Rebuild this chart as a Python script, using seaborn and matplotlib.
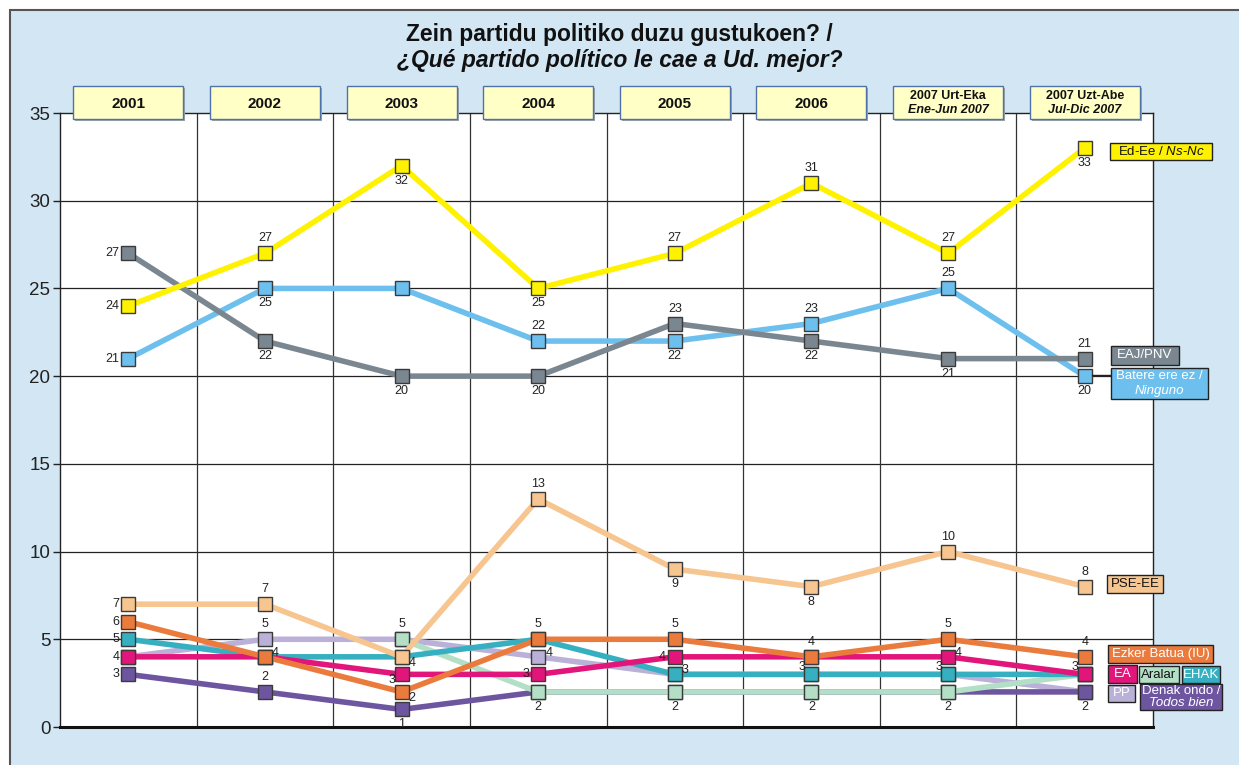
import numpy as np
import pandas as pd
import matplotlib
matplotlib.use("Agg")
import matplotlib.pyplot as plt
from matplotlib.patches import Rectangle
import seaborn as sns

# ---------------- data ----------------
periods = ["2001", "2002", "2003", "2004", "2005", "2006", "2007a", "2007b"]
period_top = ["2001", "2002", "2003", "2004", "2005", "2006", "2007 Urt-Eka", "2007 Uzt-Abe"]
period_bottom = [None, None, None, None, None, None, "Ene-Jun 2007", "Jul-Dic 2007"]

ed_ee = [24, 27, 32, 25, 27, 31, 27, 33]
eaj_pnv = [27, 22, 20, 20, 23, 22, 21, 21]
ninguno = [21, 25, 25, 22, 22, 23, 25, 20]
pse_ee = [7, 7, 4, 13, 9, 8, 10, 8]
ezker_batua = [6, 4, 2, 5, 5, 4, 5, 4]
ea = [4, 4, 3, 3, 4, 4, 4, 3]
aralar = [np.nan, np.nan, 5, 2, 2, 2, 2, 3]
ehak = [5, 4, 4, 5, 3, 3, 3, 3]
pp = [4, 5, 5, 4, 3, 3, 3, 2]
denak_ondo = [3, 2, 1, 2, 2, 2, 2, 2]

series = {
    "PP": pp,
    "Denak ondo / Todos bien": denak_ondo,
    "Aralar": aralar,
    "EHAK": ehak,
    "EA": ea,
    "Ezker Batua (IU)": ezker_batua,
    "PSE-EE": pse_ee,
    "Batere ere ez / Ninguno": ninguno,
    "EAJ/PNV": eaj_pnv,
    "Ed-Ee / Ns-Nc": ed_ee,
}

# ---------------- style ----------------
colors = {
    "Ed-Ee / Ns-Nc": "#FFF200",
    "EAJ/PNV": "#7B8790",
    "Batere ere ez / Ninguno": "#6DC0EE",
    "PSE-EE": "#F7C590",
    "Ezker Batua (IU)": "#EB7B3C",
    "EA": "#E2157A",
    "Aralar": "#B3DFC6",
    "EHAK": "#36B0C0",
    "PP": "#BBB0D8",
    "Denak ondo / Todos bien": "#6D55A0",
}

# data-label placement codes per point
label_pos = {
    "Ed-Ee / Ns-Nc": ["l", "a", "b", "b", "a", "a", "a", "b"],
    "EAJ/PNV": ["l", "b", "b", "b", "a", "b", "b", "a"],
    "Batere ere ez / Ninguno": ["l", "b", None, "a", "b", "a", "a", "b"],
    "PSE-EE": ["l", "a", "rb", "a", "b", "b", "a", "a"],
    "Ezker Batua (IU)": ["l", "r", "rb", "a", "a", "a", "a", "a"],
    "EA": ["l", None, "lb", "l", "l", None, "r", "la"],
    "Aralar": [None, None, "a", "b", "b", "b", "b", None],
    "EHAK": ["l", None, None, None, "r", "la", "la", None],
    "PP": [None, "a", None, "r", None, None, None, None],
    "Denak ondo / Todos bien": ["l", "a", "b", None, None, None, None, "b"],
}
offsets = {
    "l": (-9, 0, "right", "center"),
    "a": (0, 9, "center", "bottom"),
    "b": (0, -9, "center", "top"),
    "r": (7, 4, "left", "center"),
    "rb": (7, -6, "left", "center"),
    "lb": (-6, -6, "right", "center"),
    "la": (-6, 7, "right", "center"),
}

W, H = 1239, 765
sns.set_theme(style="white")
plt.rcParams["font.family"] = ["Liberation Sans", "DejaVu Sans"]
plt.rcParams["mathtext.fontset"] = "custom"
plt.rcParams["mathtext.rm"] = "Liberation Sans"
plt.rcParams["mathtext.it"] = "Liberation Sans:italic"

fig = plt.figure(figsize=(W / 100, H / 100), dpi=100)
fig.patch.set_facecolor("white")

def fx(x):
    return x / W

def fy(y):
    return 1 - y / H

# background frame (right and bottom edges run off the canvas)
fig.patches.append(Rectangle((fx(10), -0.05), 1.2, fy(10) + 0.05, transform=fig.transFigure,
                             fc="#D2E6F4", ec="#555555", lw=1.5, zorder=-10))

ax = fig.add_axes([fx(60), fy(727), fx(1153) - fx(60), fy(113) - fy(727)])
ax.set_facecolor("white")

rows = []
for name, vals in series.items():
    for i, v in enumerate(vals):
        rows.append({"x": i, "value": v, "series": name})
df = pd.DataFrame(rows)

sns.lineplot(data=df, x="x", y="value", hue="series", hue_order=list(series.keys()),
             palette=colors, marker="s", markersize=9.5, markeredgecolor="#3a3a3a",
             markeredgewidth=1, linewidth=4, legend=False, ax=ax, sort=False,
             estimator=None, zorder=3)

ax.set_xlim(-0.5, len(periods) - 0.5)
ax.set_ylim(0, 35)
ax.set_xticks([])
ax.set_yticks(np.arange(0, 36, 5))
ax.set_yticklabels([str(v) for v in range(0, 36, 5)], fontsize=13.5, color="#222222")
ax.tick_params(axis="y", left=True, length=5, width=1, color="#222222", pad=2)
ax.set_xlabel("")
ax.set_ylabel("")
for yv in range(5, 35, 5):
    ax.axhline(yv, color="#222222", lw=0.9, zorder=1)
for xb in np.arange(0.5, len(periods) - 0.5, 1):
    ax.axvline(xb, color="#333333", lw=0.9, zorder=1)
for s in ["left", "top", "right"]:
    ax.spines[s].set_color("#222222")
    ax.spines[s].set_linewidth(1)
ax.spines["bottom"].set_color("#111111")
ax.spines["bottom"].set_linewidth(2.2)

# data labels
for name, vals in series.items():
    for i, v in enumerate(vals):
        code = label_pos[name][i]
        if code is None or np.isnan(v):
            continue
        dx, dy, ha, va = offsets[code]
        ax.annotate(str(int(v)), (i, v), xytext=(dx, dy), textcoords="offset pixels",
                    ha=ha, va=va, fontsize=9, color="#222222", zorder=10)

# title
fig.text(0.5, fy(35), "Zein partidu politiko duzu gustukoen? /", ha="center", va="center",
         fontsize=16.5, fontweight="bold", color="#111111")
fig.text(0.5, fy(60), "¿Qué partido político le cae a Ud. mejor?", ha="center", va="center",
         fontsize=16.5, fontweight="bold", style="italic", color="#111111")

# header boxes
hw = 55
for i, (top, bot) in enumerate(zip(period_top, period_bottom)):
    xc = ax.transData.transform((i, 0))[0]
    y0, y1 = 86, 119
    fig.patches.append(Rectangle((fx(xc - hw + 2), fy(y1 + 2)), 2 * hw / W, (y1 - y0) / H,
                                 transform=fig.transFigure, fc="#9aa4ad", ec="none", zorder=4))
    fig.patches.append(Rectangle((fx(xc - hw), fy(y1)), 2 * hw / W, (y1 - y0) / H,
                                 transform=fig.transFigure, fc="#FFFFC6", ec="#4F72A8",
                                 lw=1, zorder=5))
    if bot is None:
        fig.text(fx(xc), fy((y0 + y1) / 2 + 1), top, ha="center", va="center", fontsize=11,
                 fontweight="bold", color="#111111", zorder=6)
    else:
        fig.text(fx(xc), fy(y0 + 10), top, ha="center", va="center", fontsize=9,
                 fontweight="bold", color="#111111", zorder=6)
        fig.text(fx(xc), fy(y0 + 24), bot, ha="center", va="center", fontsize=9,
                 fontweight="bold", style="italic", color="#111111", zorder=6)

# right-side labels (boxes)
def label_box(x0, y0, x1, y1, fc, lines, tc, styles):
    fig.patches.append(Rectangle((fx(x0), fy(y1)), (x1 - x0) / W, (y1 - y0) / H,
                                 transform=fig.transFigure, fc=fc, ec="#222222", lw=1, zorder=5))
    n = len(lines)
    for k, (ln, st) in enumerate(zip(lines, styles)):
        yc = y0 + (y1 - y0) * (k + 0.5) / n
        fig.text(fx((x0 + x1) / 2), fy(yc), ln, ha="center", va="center", fontsize=9.5,
                 color=tc, style=st, zorder=6)

label_box(1110, 143, 1212, 160, colors["Ed-Ee / Ns-Nc"], ["Ed-Ee / $\\mathit{Ns}$-$\\mathit{Nc}$"],
          "#111111", ["normal"])
label_box(1111, 346, 1179, 365, colors["EAJ/PNV"], ["EAJ/PNV"], "white", ["normal"])
fig.lines.append(plt.Line2D([fx(1092), fx(1111)], [fy(375), fy(375)], transform=fig.transFigure,
                            color="#222222", lw=1, zorder=4))
label_box(1111, 368, 1208, 399, colors["Batere ere ez / Ninguno"], ["Batere ere ez /", "Ninguno"],
          "white", ["normal", "italic"])
label_box(1107, 575, 1163, 593, colors["PSE-EE"], ["PSE-EE"], "#111111", ["normal"])
label_box(1108, 645, 1213, 663, colors["Ezker Batua (IU)"], ["Ezker Batua (IU)"], "white", ["normal"])
label_box(1108, 665, 1137, 683, colors["EA"], ["EA"], "white", ["normal"])
label_box(1139, 666, 1179, 683, colors["Aralar"], ["Aralar"], "#111111", ["normal"])
label_box(1182, 666, 1220, 683, colors["EHAK"], ["EHAK"], "white", ["normal"])
label_box(1108, 685, 1135, 702, colors["PP"], ["PP"], "white", ["normal"])
label_box(1140, 684, 1222, 710, colors["Denak ondo / Todos bien"], ["Denak ondo /", "Todos bien"],
          "white", ["normal", "italic"])

fig.savefig("out.png", dpi=100)
